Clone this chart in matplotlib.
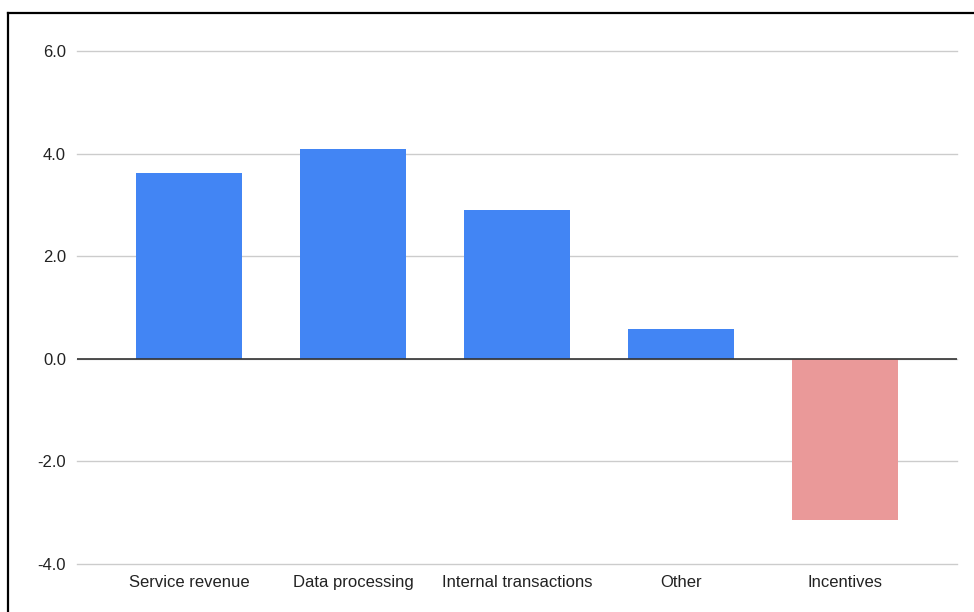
import matplotlib
matplotlib.use("Agg")
import matplotlib.pyplot as plt
from matplotlib.lines import Line2D

categories = ["Service revenue", "Data processing", "Internal transactions", "Other", "Incentives"]
values = [3.63, 4.08, 2.91, 0.59, -3.14]
yticks = [-4.0, -2.0, 0.0, 2.0, 4.0, 6.0]
ytick_labels = ["-4.0", "-2.0", "0.0", "2.0", "4.0", "6.0"]

plt.rcParams['font.family'] = ['Liberation Sans', 'DejaVu Sans']

W, H = 974, 612
fig = plt.figure(figsize=(W / 100, H / 100), dpi=100)
ax = fig.add_axes([77 / W, (H - 564) / H, 880 / W, 513 / H])

colors = ["#4285F4" if v >= 0 else "#EA9999" for v in values]
x = range(len(categories))
ax.bar(x, values, width=0.65, color=colors, zorder=3)

ax.set_xlim(-0.683, len(categories) - 1 + 0.683)
ax.set_ylim(-4, 6)
ax.set_yticks(yticks)
ax.set_yticklabels(ytick_labels)
ax.set_xticks(list(x))
ax.set_xticklabels(categories)

ax.yaxis.grid(True, color="#cccccc", linewidth=1.0, zorder=0)
for gl in ax.get_ygridlines():
    gl.set_clip_on(False)
ax.axhline(0, color="#333333", linewidth=1.2, zorder=4)
for s in ax.spines.values():
    s.set_visible(False)
ax.tick_params(axis="both", length=0, labelsize=12, colors="#222222")
ax.tick_params(axis="y", pad=8)
ax.tick_params(axis="x", pad=8)

# outer frame (partially visible)
fig.add_artist(Line2D([8 / W, 1.0], [1 - 13 / H, 1 - 13 / H], transform=fig.transFigure,
                      color="black", linewidth=1.6))
fig.add_artist(Line2D([8 / W, 8 / W], [0, 1 - 13 / H], transform=fig.transFigure,
                      color="black", linewidth=1.6))

fig.savefig("out.png", dpi=100)
